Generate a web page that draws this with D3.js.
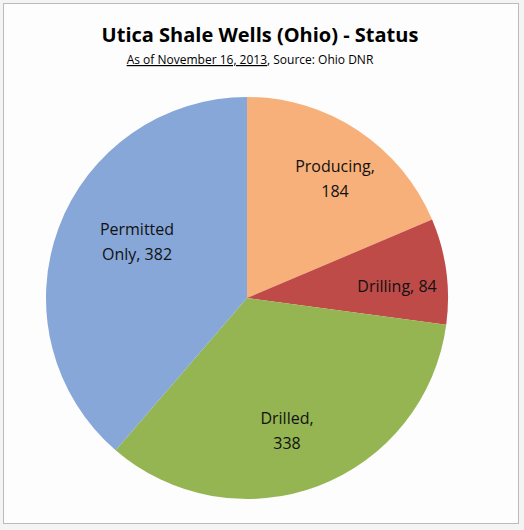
<!DOCTYPE html><html><head><meta charset="utf-8">
<script src="https://cdn.jsdelivr.net/npm/d3@7"></script>
<style>body{margin:0;background:#fff}</style></head><body>
<svg id="c" width="524" height="530"></svg>
<script>
const categories=["Producing","Drilling","Drilled","Permitted Only"];
const values=[184,84,338,382];
const colors=["#F7B07A","#BE4B48","#94B552","#86A7D8"];
const labelLines=[["Producing,","184"],["Drilling, 84"],["Drilled,","338"],["Permitted","Only, 382"]];
const svg=d3.select("#c");
svg.append("rect").attr("x",0).attr("y",0).attr("width",524).attr("height",530).attr("fill","#f4f4f4");
svg.append("rect").attr("x",3.5).attr("y",3.5).attr("width",515).attr("height",520).attr("fill","#fdfdfd").attr("stroke","#bbb");
svg.append("text").attr("x",260).attr("y",42).attr("text-anchor","middle").attr("font-family","Open Sans, sans-serif").attr("font-weight","bold").attr("font-size",20).text("Utica Shale Wells (Ohio) - Status");
const sub=svg.append("text").attr("x",250).attr("y",64).attr("text-anchor","middle").attr("font-family","Open Sans, sans-serif").attr("font-size",12);
sub.append("tspan").attr("text-decoration","underline").text("As of November 16, 2013");
sub.append("tspan").text(",  Source: Ohio DNR");
const cx=247,cy=298,r=201;
const pie=d3.pie().sort(null).value(d=>d)(values);
const arc=d3.arc().innerRadius(0).outerRadius(r);
const g=svg.append("g").attr("transform",`translate(${cx},${cy})`);
g.selectAll("path").data(pie).join("path").attr("d",arc).attr("fill",(d,i)=>colors[i]);
const lpos=[[88,-120],[150,-12],[40,132],[-110,-57]];
pie.forEach((d,i)=>{
  const t=g.append("text").attr("text-anchor","middle").attr("font-family","Open Sans, sans-serif").attr("font-size",16).attr("fill","#111");
  const L=labelLines[i];
  L.forEach((s,j)=>t.append("tspan").attr("x",lpos[i][0]).attr("y",lpos[i][1]+(j-(L.length-1)/2)*25+6).text(s));
});
</script></body></html>
